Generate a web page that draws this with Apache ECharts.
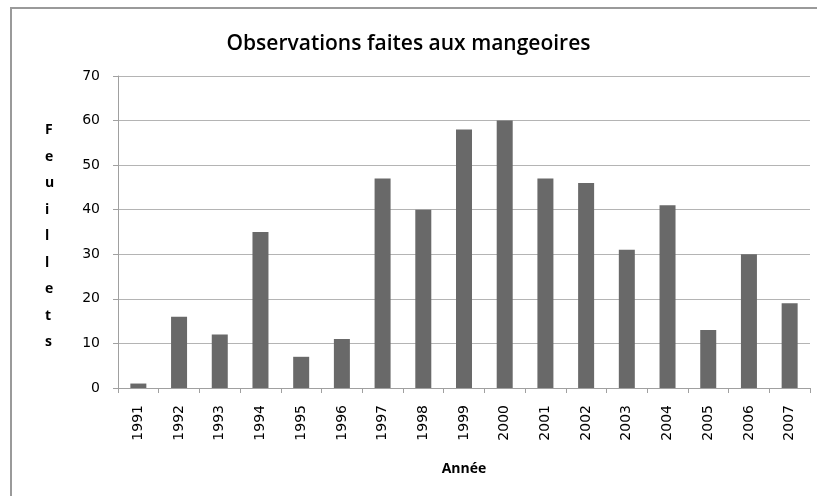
<!DOCTYPE html>
<html>
<head>
<meta charset="utf-8">
<script src="https://cdn.jsdelivr.net/npm/echarts@6/dist/echarts.min.js"></script>
<style>
  html, body { margin: 0; padding: 0; background: #fff; }
  #main { width: 817px; height: 496px; }
</style>
</head>
<body>
<div id="main"></div>
<script>
const years = ["1991", "1992", "1993", "1994", "1995", "1996", "1997", "1998", "1999",
  "2000", "2001", "2002", "2003", "2004", "2005", "2006", "2007"];
const feuillets = [1, 16, 12, 35, 7, 11, 47, 40, 58, 60, 47, 46, 31, 41, 13, 30, 19];
const yLabel = "Feuillets";

const myChart = echarts.init(document.getElementById("main"));

myChart.setOption({
  animation: false,
  backgroundColor: "#fff",
  title: {
    text: "Observations faites aux mangeoires",
    left: "center",
    top: 29,
    textStyle: { fontFamily: "Open Sans", fontSize: 21, fontWeight: 600, color: "#000" }
  },
  graphic: [
    {
      type: "polyline",
      shape: { points: [[11, 496], [11, 8], [817, 8]] },
      style: { stroke: "#9a9a9a", lineWidth: 2, fill: null }
    },
    {
      type: "text",
      left: 45,
      top: 117,
      style: {
        text: yLabel.split("").join("\n"),
        fontFamily: "Open Sans",
        fontSize: 14,
        fontWeight: "bold",
        lineHeight: 26.5,
        align: "center",
        fill: "#000"
      }
    }
  ],
  grid: { left: 118, right: 7, top: 76, bottom: 108, containLabel: false },
  xAxis: {
    type: "category",
    data: years,
    name: "Année",
    nameLocation: "middle",
    nameGap: 74,
    nameTextStyle: { fontFamily: "Open Sans", fontSize: 14, fontWeight: "bold", color: "#000" },
    axisLine: { lineStyle: { color: "#a0a0a0" } },
    axisTick: { show: true, length: 5, lineStyle: { color: "#a0a0a0" } },
    axisLabel: { rotate: 90, margin: 17, fontFamily: "DejaVu Sans", fontSize: 14, color: "#000" }
  },
  yAxis: {
    type: "value",
    min: 0,
    max: 70,
    interval: 10,
    axisLine: { show: true, lineStyle: { color: "#a0a0a0" } },
    axisTick: { show: true, length: 5, lineStyle: { color: "#a0a0a0" } },
    axisLabel: { margin: 18, fontFamily: "DejaVu Sans", fontSize: 14, color: "#000" },
    splitLine: { lineStyle: { color: "#b4b4b4" } }
  },
  series: [
    {
      type: "bar",
      data: feuillets,
      barWidth: 16,
      itemStyle: { color: "#696969" }
    }
  ]
});
</script>
</body>
</html>
